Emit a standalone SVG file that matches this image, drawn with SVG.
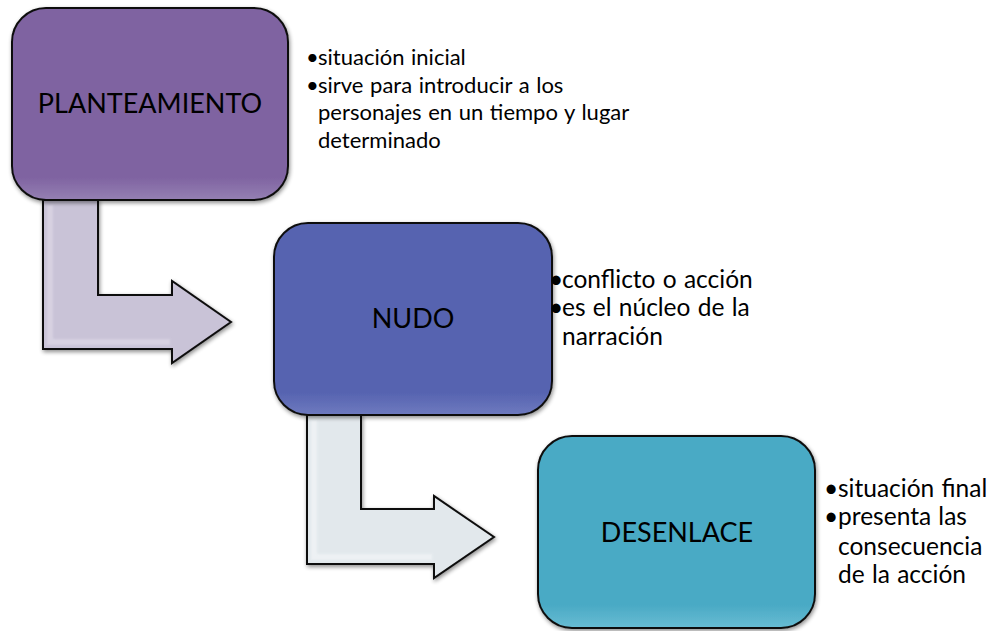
<svg xmlns="http://www.w3.org/2000/svg" width="992" height="631" viewBox="0 0 992 631">
<defs>
<filter id="sh" x="-10%" y="-10%" width="130%" height="130%"><feGaussianBlur in="SourceAlpha" stdDeviation="2"/><feOffset dx="1" dy="2"/><feComponentTransfer><feFuncA type="linear" slope="0.45"/></feComponentTransfer><feMerge><feMergeNode/><feMergeNode in="SourceGraphic"/></feMerge></filter>
<filter id="bl" x="-50%" y="-20%" width="200%" height="140%"><feGaussianBlur stdDeviation="1.2"/></filter>
<linearGradient id="g1" x1="0" y1="0" x2="0" y2="1"><stop offset="0" stop-color="#7f63a1"/><stop offset="0.88" stop-color="#7f63a1"/><stop offset="1" stop-color="#9580b3"/></linearGradient>
<linearGradient id="g2" x1="0" y1="0" x2="0" y2="1"><stop offset="0" stop-color="#5663b0"/><stop offset="0.88" stop-color="#5663b0"/><stop offset="1" stop-color="#6e7abf"/></linearGradient>
<linearGradient id="g3" x1="0" y1="0" x2="0" y2="1"><stop offset="0" stop-color="#4aaac5"/><stop offset="0.88" stop-color="#4aaac5"/><stop offset="1" stop-color="#68bcd3"/></linearGradient>
</defs>
<style>
.box{stroke:#111;stroke-width:2;filter:url(#sh)}
.hl{stroke:#fff;stroke-width:3;stroke-linecap:round;fill:none;opacity:0.85;filter:url(#bl)}
.lbl{font-family:Lato,"Liberation Sans",sans-serif;font-size:27px;fill:#000;text-anchor:middle}
.txt{font-family:Lato,"Liberation Sans",sans-serif;font-size:22px;word-spacing:1px;fill:#000}
.txt2{font-family:Lato,"Liberation Sans",sans-serif;font-size:24.5px;word-spacing:1px;fill:#000}
.arr{stroke:#111;stroke-width:2;filter:url(#sh)}
</style>
<g id="connectors">
<path class="arr" d="M43,200 L98,200 L98,295 L172,295 L172,281 L231,322 L172,363 L172,349 L43,349 Z" fill="#c9c3d7"/>
<path d="M50,205 L50,342 L170,342" stroke="#ddd8e6" stroke-width="6" fill="none" opacity="0.7" filter="url(#bl)"/>
<path class="arr" d="M307,415 L361,415 L361,509 L434,509 L434,496 L494,537 L434,578 L434,564 L307,564 Z" fill="#e2e8ec"/>
<path d="M314,420 L314,557 L432,557" stroke="#f3f6f8" stroke-width="6" fill="none" opacity="0.7" filter="url(#bl)"/>
</g>
<g id="node-planteamiento">
<rect class="box" x="12" y="8" width="276" height="192" rx="34" fill="url(#g1)"/>
<path class="hl" d="M26,32 L26,176"/>
<path class="hl" d="M275,40 L275,170"/>
<text class="lbl" x="150" y="113">PLANTEAMIENTO</text>
</g>
<g id="node-nudo">
<rect class="box" x="274" y="223" width="278" height="192" rx="34" fill="url(#g2)"/>
<path class="hl" d="M288,247 L288,391"/>
<path class="hl" d="M539,255 L539,385"/>
<text class="lbl" x="413" y="328">NUDO</text>
</g>
<g id="node-desenlace">
<rect class="box" x="538" y="436" width="277" height="192" rx="34" fill="url(#g3)"/>
<path class="hl" d="M552,460 L552,604"/>
<path class="hl" d="M802,468 L802,598"/>
<text class="lbl" x="677" y="542">DESENLACE</text>
</g>
<g id="text-planteamiento" class="txt">
<text x="306" y="65">•</text><text x="318" y="65">situación inicial</text>
<text x="306" y="93">•</text><text x="318" y="93">sirve para introducir a los</text>
<text x="318" y="120">personajes en un tiempo y lugar</text>
<text x="318" y="148">determinado</text>
</g>
<g id="text-nudo" class="txt2">
<text x="549" y="288">•</text><text x="562" y="288">conflicto o acción</text>
<text x="549" y="316">•</text><text x="562" y="316">es el núcleo de la</text>
<text x="562" y="345">narración</text>
</g>
<g id="text-desenlace" class="txt2">
<text x="824" y="497">•</text><text x="838" y="497">situación final</text>
<text x="824" y="525">•</text><text x="838" y="525">presenta las</text>
<text x="838" y="555">consecuencia</text>
<text x="838" y="583">de la acción</text>
</g>
</svg>
